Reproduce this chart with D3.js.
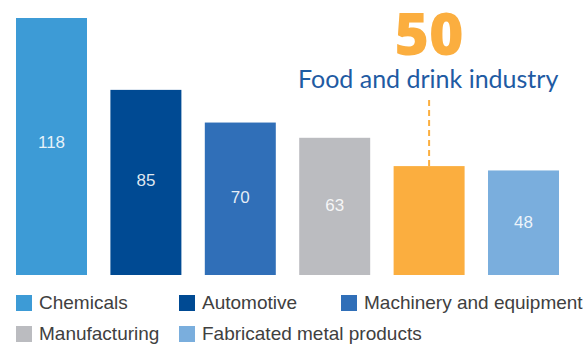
<!DOCTYPE html>
<html>
<head>
<meta charset="utf-8">
<script src="https://cdn.jsdelivr.net/npm/d3@7"></script>
<style>
  html, body { margin: 0; padding: 0; background: #fff; }
  svg { display: block; }
</style>
</head>
<body>
<svg id="chart" width="585" height="344"></svg>
<script>
// Industry values
const categories = ["Chemicals", "Automotive", "Machinery and equipment", "Manufacturing", "Food and drink industry", "Fabricated metal products"];
const values = [118, 85, 70, 63, 50, 48];
const colors = ["#3d9bd6", "#004a93", "#306fb8", "#bbbcc0", "#fbae3f", "#7aaedd"];
const highlight = "Food and drink industry";
const legendItems = ["Chemicals", "Automotive", "Machinery and equipment", "Manufacturing", "Fabricated metal products"];

const svg = d3.select("#chart");
const color = d3.scaleOrdinal().domain(categories).range(colors);

const x = d3.scaleBand().domain(categories).range([16, 559]).paddingInner(0.248).paddingOuter(0);
const y = d3.scaleLinear().domain([0, 118]).range([275, 18]);

const data = categories.map((c, i) => ({ name: c, value: values[i] }));

// Bars
svg.append("g").selectAll("rect").data(data).join("rect")
  .attr("x", d => x(d.name))
  .attr("y", d => y(d.value))
  .attr("width", x.bandwidth())
  .attr("height", d => y(0) - y(d.value))
  .attr("fill", d => color(d.name));

// Value labels inside the bars
svg.append("g").selectAll("text").data(data.filter(d => d.name !== highlight)).join("text")
  .attr("x", d => x(d.name) + x.bandwidth() / 2)
  .attr("y", d => y(d.value * 0.52) + 7)
  .attr("text-anchor", "middle")
  .attr("font-family", "'Liberation Sans', Arial, sans-serif")
  .attr("font-size", 17)
  .attr("fill", "rgba(255,255,255,0.88)")
  .text(d => d.value);

// Highlighted category callout
const h = data.find(d => d.name === highlight);
const hx = x(h.name) + x.bandwidth() / 2;
svg.append("line")
  .attr("x1", hx).attr("x2", hx)
  .attr("y1", 100).attr("y2", y(h.value))
  .attr("stroke", "#fbae3f")
  .attr("stroke-width", 2)
  .attr("stroke-dasharray", "6,4");

svg.append("text")
  .attr("x", hx).attr("y", 55)
  .attr("text-anchor", "middle")
  .attr("font-family", "'Open Sans', Lato, sans-serif")
  .attr("font-weight", 800)
  .attr("font-size", 59)
  .attr("fill", "#fbae3f")
  .text(h.value);

svg.append("text")
  .attr("x", hx - 1).attr("y", 88)
  .attr("text-anchor", "middle")
  .attr("font-family", "Lato, 'Open Sans', sans-serif")
  .attr("font-size", 25)
  .attr("fill", "#1f5ba3")
  .text(h.name);

// Legend
const legendPos = [[16, 295], [179, 295], [341, 295], [16, 326], [179, 326]];
const lg = svg.append("g").selectAll("g").data(legendItems).join("g")
  .attr("transform", (d, i) => `translate(${legendPos[i][0]},${legendPos[i][1]})`);
lg.append("rect").attr("width", 16).attr("height", 16).attr("fill", d => color(d));
lg.append("text")
  .attr("x", 23).attr("y", 14)
  .attr("font-family", "'Liberation Sans', Arial, sans-serif")
  .attr("font-size", 19)
  .attr("fill", "#404040")
  .text(d => d);
</script>
</body>
</html>
